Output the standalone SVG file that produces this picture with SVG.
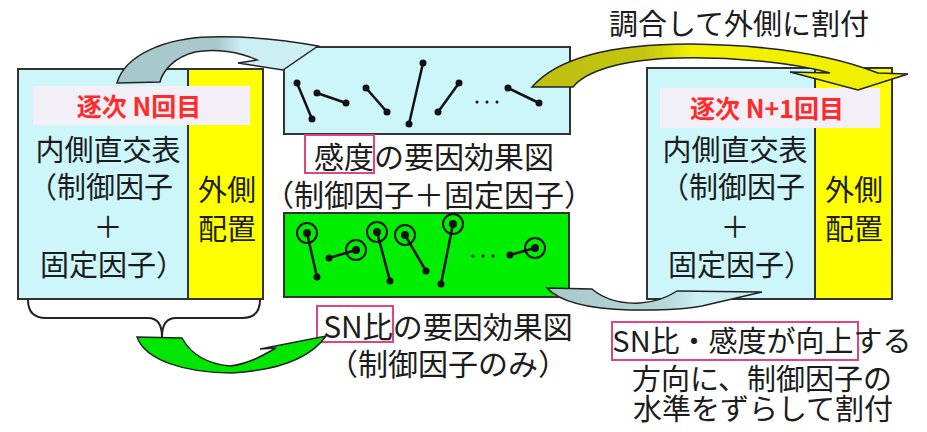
<svg xmlns="http://www.w3.org/2000/svg" width="927" height="432" viewBox="0 0 927 432">
<defs>
<style>
.t{font-family:"Noto Sans CJK JP","Noto Sans",sans-serif;fill:#1c1c1c;font-size:29px}
.t30{font-size:30px}
.red{font-family:"Noto Sans CJK JP","Noto Sans",sans-serif;fill:#ff2a2a;font-size:25px;font-weight:bold}
.box{stroke:#333;stroke-width:2}
.blue{fill:#ccf6fa}
.yel{fill:#ffff00}
.band{fill:#f3eff6}
.pink{fill:none;stroke:#e0457c;stroke-width:2}
.ln{stroke:#111;stroke-width:2.5;fill:none}
.dot{fill:#111}
.ring{fill:none;stroke:#111;stroke-width:2}
.arrow{stroke:#222;stroke-width:1.5}
</style>
<linearGradient id="gGray" x1="0" y1="0" x2="1" y2="0">
<stop offset="0" stop-color="#a8c8cc"/><stop offset="0.5" stop-color="#a8c8cc"/><stop offset="0.62" stop-color="#cdeff3"/>
</linearGradient>
<linearGradient id="gYel" x1="0" y1="0" x2="1" y2="0">
<stop offset="0" stop-color="#bebe10"/><stop offset="0.3" stop-color="#c4c412"/><stop offset="0.42" stop-color="#f0f000"/>
</linearGradient>
<linearGradient id="gGray2" x1="0" y1="0" x2="1" y2="0">
<stop offset="0" stop-color="#a8c8cc"/><stop offset="0.55" stop-color="#b6d6da"/><stop offset="0.7" stop-color="#cdeff3"/>
</linearGradient>
</defs>

<g id="left-table">
<rect class="box blue" x="18" y="69" width="170" height="230"/>
<rect class="box yel" x="188" y="69" width="75" height="230"/>
<rect class="band" x="33" y="86" width="217" height="39"/>
<text class="red" x="139" y="116" text-anchor="middle">逐次 N回目</text>
<text class="t" x="108" y="161" text-anchor="middle">内側直交表</text>
<text class="t" x="28" y="198">（制御因子</text>
<text class="t" x="108" y="238" text-anchor="middle">＋</text>
<text class="t" x="40" y="276">固定因子）</text>
<text class="t" x="227" y="201" text-anchor="middle">外側</text>
<text class="t" x="227" y="240" text-anchor="middle">配置</text>
</g>

<g id="brace">
<path d="M28,300 Q28,318 46,318 L148,318 Q162,318 162,337 Q162,318 176,318 L242,318 Q260,318 260,300" fill="none" stroke="#222" stroke-width="2"/>
</g>

<g id="sensitivity-chart">
<rect class="box blue" x="284" y="47" width="286" height="87"/>
<g class="ln">
<line x1="297" y1="83" x2="312" y2="119"/>
<line x1="317" y1="93" x2="346" y2="103"/>
<line x1="366" y1="88" x2="387" y2="112"/>
<line x1="423" y1="63" x2="409" y2="124"/>
<line x1="459" y1="83" x2="438" y2="112"/>
<line x1="508" y1="88" x2="539" y2="103"/>
</g>
<g class="dot">
<circle cx="297" cy="83" r="3.5"/><circle cx="312" cy="119" r="3.5"/>
<circle cx="317" cy="93" r="3.5"/><circle cx="346" cy="103" r="3.5"/>
<circle cx="366" cy="88" r="3.5"/><circle cx="387" cy="112" r="3.5"/>
<circle cx="423" cy="63" r="3.5"/><circle cx="409" cy="124" r="3.5"/>
<circle cx="459" cy="83" r="3.5"/><circle cx="438" cy="112" r="3.5"/>
<circle cx="508" cy="88" r="3.5"/><circle cx="539" cy="103" r="3.5"/>
<circle cx="477" cy="102" r="1.5"/><circle cx="487" cy="102" r="1.5"/><circle cx="497" cy="102" r="1.5"/>
</g>
<rect class="pink" x="305" y="135" width="69" height="38"/>
<text class="t t30" x="434" y="168" text-anchor="middle">感度の要因効果図</text>
<text class="t t30" x="429" y="206" text-anchor="middle">（制御因子＋固定因子）</text>
</g>

<g id="sn-chart">
<rect class="box" x="284" y="213" width="285" height="84" fill="#00ee00"/>
<g class="ln">
<line x1="307" y1="233" x2="317" y2="277"/>
<line x1="329" y1="258" x2="356" y2="250"/>
<line x1="377" y1="232" x2="390" y2="281"/>
<line x1="405" y1="235" x2="426" y2="271"/>
<line x1="453" y1="224" x2="441" y2="284"/>
<line x1="510" y1="255" x2="535" y2="248"/>
</g>
<g class="ring">
<circle cx="307" cy="233" r="10"/><circle cx="356" cy="250" r="10"/>
<circle cx="377" cy="232" r="10"/><circle cx="405" cy="235" r="10"/>
<circle cx="453" cy="224" r="10"/><circle cx="535" cy="248" r="10"/>
</g>
<g class="dot">
<circle cx="307" cy="233" r="4"/><circle cx="317" cy="277" r="3.5"/>
<circle cx="329" cy="258" r="3.5"/><circle cx="356" cy="250" r="4"/>
<circle cx="377" cy="232" r="4"/><circle cx="390" cy="281" r="3.5"/>
<circle cx="405" cy="235" r="4"/><circle cx="426" cy="271" r="3.5"/>
<circle cx="453" cy="224" r="4"/><circle cx="441" cy="284" r="3.5"/>
<circle cx="510" cy="255" r="3.5"/><circle cx="535" cy="248" r="4"/>
<circle cx="473" cy="256" r="1.5"/><circle cx="483" cy="256" r="1.5"/><circle cx="493" cy="256" r="1.5"/>
</g>
<rect class="pink" x="317" y="306" width="76" height="36"/>
<text class="t t30" x="448" y="338" text-anchor="middle">SN比の要因効果図</text>
<text class="t t30" x="448" y="375" text-anchor="middle">（制御因子のみ）</text>
</g>

<g id="right-table">
<rect class="box blue" x="647" y="68" width="168" height="231"/>
<rect class="box yel" x="815" y="68" width="77" height="231"/>
<rect class="band" x="660" y="88" width="220" height="40"/>
<text class="red" x="767" y="118" text-anchor="middle">逐次 N+1回目</text>
<text class="t" x="735" y="161" text-anchor="middle">内側直交表</text>
<text class="t" x="660" y="198">（制御因子</text>
<text class="t" x="735" y="238" text-anchor="middle">＋</text>
<text class="t" x="668" y="276">固定因子）</text>
<text class="t" x="854" y="201" text-anchor="middle">外側</text>
<text class="t" x="854" y="240" text-anchor="middle">配置</text>
</g>

<g id="note-top">
<text class="t" x="739" y="35" text-anchor="middle">調合して外側に割付</text>
</g>

<g id="note-bottom">
<rect class="pink" x="612" y="322" width="246" height="38"/>
<text class="t" x="762" y="352" text-anchor="middle">SN比・感度が向上する</text>
<text class="t" x="762" y="390" text-anchor="middle">方向に、制御因子の</text>
<text class="t" x="763" y="420" text-anchor="middle">水準をずらして割付</text>
</g>

<g id="connectors">
<path class="arrow" fill="url(#gGray)" d="M117,83 C125,55 165,38 210,37 C250,36 285,40 318,46 L283,70 L238,63 L257,60 C240,52 215,48 195,52 C175,57 163,70 160,82 Z"/>
<path class="arrow" fill="url(#gYel)" d="M532,87 C560,55 620,44 690,44 C780,45 840,58 878,73 L908,74 L858,90 L790,72 L830,73 C790,62 730,57 680,58 C620,59 585,72 573,87 Z"/>
<path class="arrow" fill="#00e600" d="M137,337 L182,338 C192,356 208,364 230,366 C248,364 262,356 276,348 L260,349 L326,336 C312,356 282,370 232,373 C185,373 145,360 137,337 Z"/>
<path class="arrow" fill="url(#gGray2)" d="M547,288 L592,289 C605,300 620,304 640,303 C655,302 668,297 677,291 L762,292 L702,306 C680,310 660,310 630,310 C590,309 560,302 547,288 Z"/>
</g>
</svg>
